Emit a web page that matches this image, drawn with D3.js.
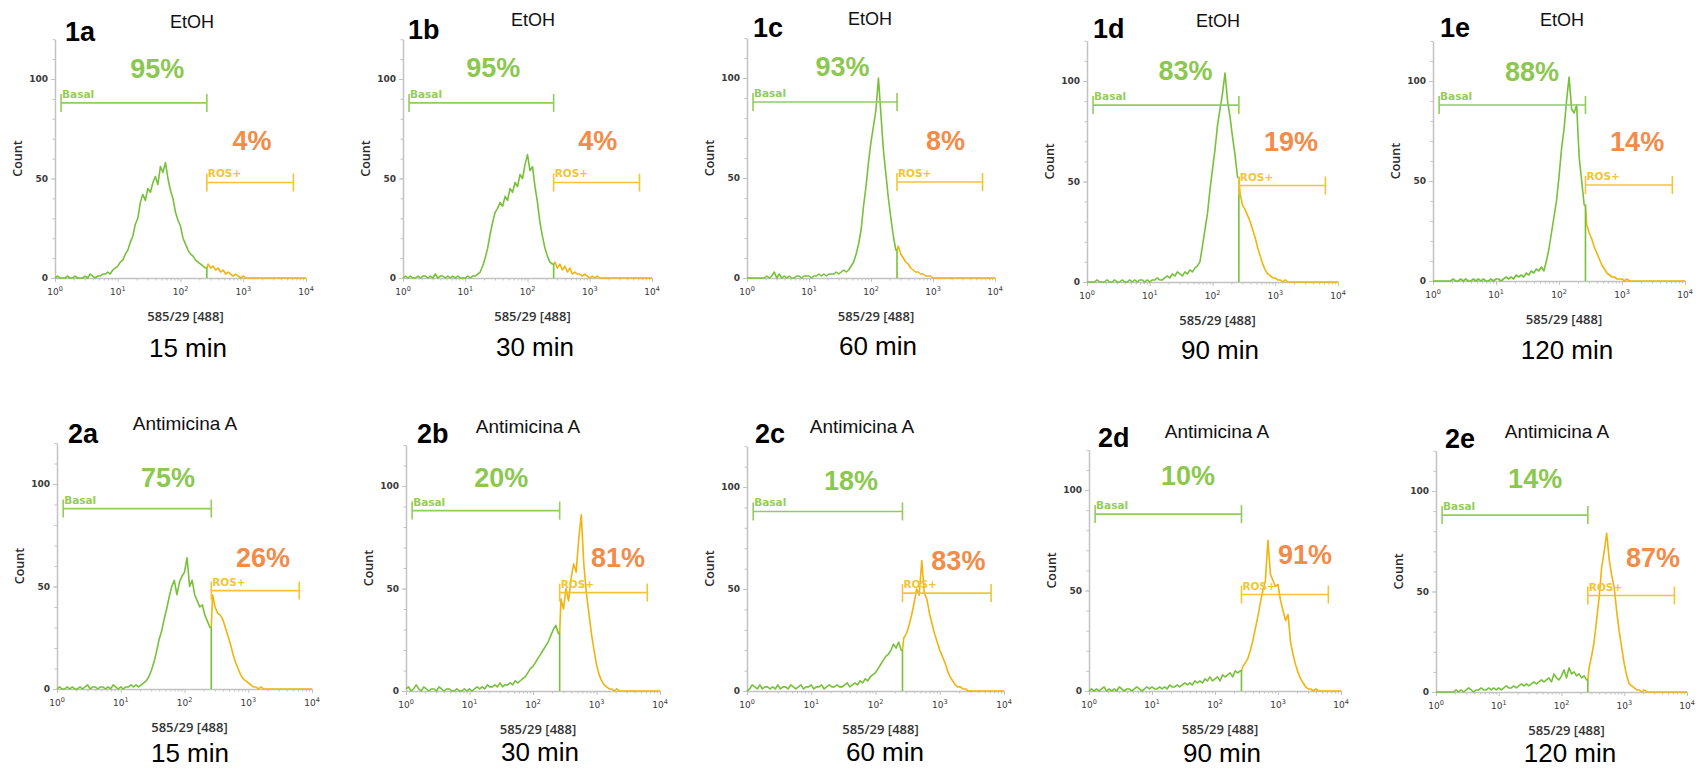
<!DOCTYPE html>
<html>
<head>
<meta charset="utf-8">
<script src="https://cdn.jsdelivr.net/npm/d3@7"></script>
<style>
  html, body { margin: 0; padding: 0; background: #fff; }
  svg { display: block; }
</style>
</head>
<body>
<svg id="chart" width="1698" height="769"></svg>
<script>
// ---- Data ---------------------------------------------------------------
const panelIds   = ["1a", "1b", "1c", "1d", "1e", "2a", "2b", "2c", "2d", "2e"];
const treatments = ["EtOH", "EtOH", "EtOH", "EtOH", "EtOH",
                    "Antimicina A", "Antimicina A", "Antimicina A", "Antimicina A", "Antimicina A"];
const times      = ["15 min", "30 min", "60 min", "90 min", "120 min",
                    "15 min", "30 min", "60 min", "90 min", "120 min"];
const basalPct   = [95, 95, 93, 83, 88, 75, 20, 18, 10, 14];
const rosPct     = [4, 4, 8, 19, 14, 26, 81, 83, 91, 87];

const xTicks = [1, 10, 100, 1000, 10000];
const yTicks = [0, 50, 100];
const xTitle = "585/29 [488]";
const yTitle = "Count";

// Marker gates (fluorescence units)
const basalGate = [1.25, 263];
const rosGate   = [263, 6300];

// Histogram counts, one value per channel; channels are spaced 0.04 decades
// apart from 10^0 to 10^4 (101 channels).
const hist1a = [0,1,0,0,0,1,0,0,1,0, 0,0,1,0,2,1,0,1,1,2,
  2,3,2,4,5, 6,8,9,12,14, 18,21,27,30,38, 42,39,45,43,48,
  51,47,56,53,58, 50,44,40,33,29, 26,20,17,14,12, 11,9,8,7,6,
  5,
  7,5,6,4,5, 3,4,2,3,2, 1,2,1,0,1,
  0,0,0,0,0, 0,0,0,0,0, 0,0,0,0,0, 0,0,0,0,0, 0,0,0,0,0];
const hist1b = [0,1,0,1,0,0,1,0,1,1, 0,1,0,2,0,1,1,0,1,0,
  1,0,1,0,0, 0,1,0,1,1, 2,3,6,10,15, 22,28,33,35,38,
  36,41,39,45,43, 48,46,52,50,57, 62,54,56,46,38, 28,21,15,11,8,
  7,
  8,5,7,4,6, 3,5,2,3,2, 2,1,2,1,0,
  1,0,1,0,0, 0,0,0,0,0, 0,0,0,0,0, 0,0,0,0,0, 0,0,0,0,0];
const hist1c = [0,0,0,0,0,0,0,0,1,0, 1,3,0,2,0,1,0,1,0,0,
  1,1,0,1,1, 1,0,1,1,2, 1,2,1,2,2, 2,3,2,3,4,
  3,4,6,8,12, 17,24,36,46,58, 68,76,84,100,82, 64,52,40,30,21,
  14,
  16,12,10,8,7, 5,4,3,3,2, 2,1,1,1,0,
  0,0,0,0,0, 0,0,0,0,0, 0,0,0,0,0, 0,0,0,0,0, 0,0,0,0,0];
const hist1d = [0,0,0,0,1,0,0,0,1,0, 0,1,0,0,1,0,0,1,0,1,
  0,1,1,0,1, 0,1,1,2,1, 1,2,3,2,4, 3,5,4,3,5,
  4,6,5,7,8, 10,18,26,34,46, 56,66,78,86,94, 104,90,82,72,63,
  52,
  44,38,36,33,30, 26,22,17,13,9, 6,4,3,2,2,
  1,1,0,1,0, 0,0,0,0,0, 0,0,0,0,0, 0,0,0,0,0, 0,0,0,0,0];
const hist1e = [0,0,0,0,0,0,0,0,1,0, 0,1,0,1,0,0,1,0,1,0,
  1,0,0,1,0, 1,1,0,1,2, 1,2,1,3,2, 3,2,4,3,5,
  4,6,5,7,5, 10,16,24,32,40, 52,66,76,90,102, 86,84,88,62,50,
  38,
  28,24,21,17,14, 11,8,6,4,3, 2,2,1,1,1,
  0,1,0,0,0, 0,0,0,0,0, 0,0,0,0,0, 0,0,0,0,0, 0,0,0,0,0];
const hist2a = [0,1,0,0,1,0,1,0,0,1, 0,1,2,0,1,1,0,1,1,0,
  1,0,2,1,0, 1,0,1,1,2, 1,2,1,2,3, 4,6,9,13,18,
  24,28,34,39,45, 50,53,46,52,55, 57,64,50,53,46, 43,40,41,36,33,
  30,
  46,40,37,36,34, 30,26,22,17,13, 10,7,5,4,3,
  2,1,1,0,1, 0,0,0,0,0, 0,0,0,0,0, 0,0,0,0,0, 0,0,0,0,0];
const hist2b = [1,2,0,1,3,1,0,2,1,0, 1,1,0,2,1,0,1,1,0,0,
  1,0,0,1,0, 1,0,1,2,1, 2,1,3,2,2, 3,2,4,2,3,
  3,4,3,5,4, 5,6,7,9,11, 12,14,16,18,20, 22,24,27,30,32,
  28,
  45,40,50,44,55, 62,58,74,86,62, 48,38,28,20,13,
  8,5,3,2,1, 1,0,1,0,0, 0,0,0,0,0, 0,0,0,0,0, 0,0,0,0,0];
const hist2c = [0,1,3,2,1,3,1,2,2,1, 2,1,3,1,2,2,1,3,2,1,
  2,3,1,2,2, 3,1,2,2,3, 1,2,3,2,2, 3,2,2,3,4,
  2,3,4,3,5, 4,6,5,7,8, 9,11,13,15,17, 18,20,23,21,24,
  20,
  26,28,32,37,43, 50,47,64,48,45, 38,33,28,24,20,
  17,14,10,7,5, 3,2,2,1,1, 0,0,0,0,0, 0,0,0,0,0, 0,0,0,0,0];
const hist2d = [0,1,0,1,0,1,2,0,1,0, 1,0,2,1,0,1,1,0,1,2,
  1,0,1,2,1, 2,1,1,2,1, 2,1,3,2,2, 3,2,3,4,3,
  4,3,5,4,5, 4,6,5,7,5, 6,7,5,8,7, 8,9,7,10,9,
  10,
  12,14,16,20,25, 31,37,44,50,55, 75,58,55,52,53,
  45,40,35,38,24, 18,13,9,6,4, 2,1,1,0,1, 0,0,0,0,0, 0,0,0,0,0];
const hist2e = [0,0,0,0,0,0,0,0,1,0, 1,0,1,2,1,0,1,1,2,1,
  1,2,1,2,1, 2,1,2,3,2, 2,3,2,3,4, 3,4,3,4,5,
  4,5,6,5,6, 7,5,9,7,6, 8,11,7,12,9, 10,8,9,7,8,
  6,
  12,18,25,36,47, 62,70,79,66,58, 52,40,30,22,14,
  8,4,3,2,1, 1,0,1,0,0, 0,0,0,0,0, 0,0,0,0,0, 0,0,0,0,0];

const histograms = [hist1a, hist1b, hist1c, hist1d, hist1e,
                    hist2a, hist2b, hist2c, hist2d, hist2e];
const channels = d3.range(101).map(i => Math.pow(10, i * 0.04));

// ---- Layout -------------------------------------------------------------
// Plot frame of each panel plus where its labels sit.
const layout = [
  {x0: 55,   x1: 306,  yb: 278, y100: 79,  idX: 65,   idY: 41,  trX: 192,  trY: 28,  tmX: 188,  tmY: 357, bp: [1.63, 105.5], rp: [3.14, 69]},
  {x0: 403,  x1: 652,  yb: 278, y100: 79,  idX: 408,  idY: 39,  trX: 533,  trY: 26,  tmX: 535,  tmY: 356, bp: [1.45, 106],   rp: [3.13, 69]},
  {x0: 747,  x1: 995,  yb: 278, y100: 78,  idX: 753,  idY: 37,  trX: 870,  trY: 25,  tmX: 878,  tmY: 355, bp: [1.54, 106],   rp: [3.20, 69]},
  {x0: 1087, x1: 1338, yb: 282, y100: 81,  idX: 1093, idY: 38,  trX: 1218, trY: 27,  tmX: 1220, tmY: 359, bp: [1.57, 105],   rp: [3.25, 70]},
  {x0: 1433, x1: 1685, yb: 281, y100: 81,  idX: 1440, idY: 37,  trX: 1562, trY: 26,  tmX: 1567, tmY: 359, bp: [1.57, 105],   rp: [3.24, 70]},
  {x0: 57,   x1: 312,  yb: 689, y100: 484, idX: 68,   idY: 443, trX: 185,  trY: 430, tmX: 190,  tmY: 762, bp: [1.74, 103],   rp: [3.23, 64]},
  {x0: 406,  x1: 660,  yb: 691, y100: 486, idX: 417,  idY: 443, trX: 528,  trY: 433, tmX: 540,  tmY: 761, bp: [1.50, 104],   rp: [3.34, 65]},
  {x0: 747,  x1: 1004, yb: 691, y100: 487, idX: 755,  idY: 443, trX: 862,  trY: 433, tmX: 885,  tmY: 761, bp: [1.62, 103],   rp: [3.29, 64]},
  {x0: 1089, x1: 1341, yb: 691, y100: 490, idX: 1098, idY: 447, trX: 1217, trY: 438, tmX: 1222, tmY: 762, bp: [1.57, 107],   rp: [3.43, 68]},
  {x0: 1436, x1: 1687, yb: 692, y100: 491, idX: 1445, idY: 448, trX: 1557, trY: 438, tmX: 1570, tmY: 762, bp: [1.58, 106],   rp: [3.46, 67]}
];
const basalGateLevel = 88;   // gate bar height, in counts
const rosGateLevel = 48;

const C = {
  axis: "#c2c2c2",
  tickText: "#3a3a3a",
  green: "#76c139",
  orange: "#f1b40e",
  basalGate: "#92cd5a",
  rosGate: "#f3c536",
  pctGreen: "#8cc84f",
  pctOrange: "#f38b49"
};

const svg = d3.select("#chart");

// decade sub-ticks 2..9 for the log axis
const minorX = [];
for (let d = 1; d < 1e4; d *= 10) for (let m = 2; m < 10; m++) minorX.push(d * m);
const minorY = d3.range(0, 121, 10);

histograms.forEach((h, k) => {
  if (h.length !== channels.length) throw new Error("histogram " + panelIds[k] + " has " + h.length + " values");
});

panelIds.forEach((id, k) => {
  const L = layout[k];
  const hist = histograms[k];
  const unit = (L.yb - L.y100) / 100;
  const x = d3.scaleLog().domain([1, 1e4]).range([L.x0, L.x1]);
  const y = d3.scaleLinear().domain([0, 120]).range([L.yb, L.yb - 120 * unit]);
  const g = svg.append("g").attr("class", "panel panel-" + id);

  // x axis
  const xa = g.append("g").attr("transform", `translate(0,${L.yb})`)
    .call(d3.axisBottom(x).tickValues(xTicks).tickSize(4).tickSizeOuter(0).tickFormat(""));
  const xm = g.append("g").attr("transform", `translate(0,${L.yb})`)
    .call(d3.axisBottom(x).tickValues(minorX).tickSize(2.5).tickSizeOuter(0).tickFormat(""));
  xm.select(".domain").remove();

  // y axis
  const ya = g.append("g").attr("transform", `translate(${L.x0},0)`)
    .call(d3.axisLeft(y).tickValues(yTicks).tickSize(4).tickSizeOuter(0).tickPadding(3).tickFormat(d3.format("d")));
  const ym = g.append("g").attr("transform", `translate(${L.x0},0)`)
    .call(d3.axisLeft(y).tickValues(minorY).tickSize(2.5).tickSizeOuter(0).tickFormat(""));
  ym.select(".domain").remove();

  [xa, xm, ya, ym].forEach(a => {
    a.select(".domain").attr("stroke", C.axis).attr("stroke-width", 1.5);
    a.selectAll(".tick line").attr("stroke", C.axis).attr("stroke-width", 1);
  });
  ya.selectAll(".tick text")
    .attr("font-family", "'DejaVu Sans', sans-serif").attr("font-weight", "bold")
    .attr("font-size", 9).attr("fill", C.tickText);

  // x tick labels as powers of ten
  const xl = g.append("g").selectAll("text").data(xTicks).join("text")
    .attr("x", d => x(d)).attr("y", L.yb + 17)
    .attr("text-anchor", "middle")
    .attr("font-family", "'DejaVu Sans', sans-serif")
    .attr("font-size", 9).attr("fill", C.tickText);
  xl.append("tspan").text("10");
  xl.append("tspan").attr("dy", -4).attr("font-size", 6.5)
    .text(d => Math.round(Math.log10(d)));

  // axis titles
  g.append("text")
    .attr("x", (L.x0 + L.x1) / 2 + 5).attr("y", L.yb + 43)
    .attr("text-anchor", "middle")
    .attr("font-family", "'Open Sans', sans-serif").attr("font-weight", 600)
    .attr("font-size", 13).attr("fill", "#333")
    .text(xTitle);
  g.append("text")
    .attr("transform", `translate(${L.x0 - 38},${y(60)}) rotate(-90)`)
    .attr("text-anchor", "middle").attr("dominant-baseline", "central")
    .attr("font-family", "'Open Sans', sans-serif").attr("font-weight", 600)
    .attr("font-size", 12.5).attr("fill", "#2a2a2a")
    .text(yTitle);

  // histogram, split at the ROS+ gate
  const gate = basalGate[1];
  const split = channels.findIndex(c => c > gate);
  const line = d3.line();
  const greenPts = channels.slice(0, split).map((c, i) => [x(c), y(hist[i])]);
  greenPts.push([x(gate), y(hist[split - 1])], [x(gate), y(0)]);
  const orangePts = [[x(gate), y(hist[split - 1])]]
    .concat(channels.slice(split).map((c, i) => [x(c), y(hist[split + i])]));

  g.append("path").attr("d", line(orangePts))
    .attr("fill", "none").attr("stroke", C.orange).attr("stroke-width", 1.6)
    .attr("stroke-linejoin", "round");
  g.append("path").attr("d", line(greenPts))
    .attr("fill", "none").attr("stroke", C.green).attr("stroke-width", 1.6)
    .attr("stroke-linejoin", "round");

  // gate markers
  const drawGate = (range, level, color, label) => {
    const gy = y(level);
    const gg = g.append("g");
    gg.append("line").attr("x1", x(range[0])).attr("x2", x(range[1]))
      .attr("y1", gy).attr("y2", gy);
    range.forEach(v => gg.append("line")
      .attr("x1", x(v)).attr("x2", x(v)).attr("y1", gy - 9).attr("y2", gy + 9));
    gg.selectAll("line").attr("stroke", color).attr("stroke-width", 1.6);
    gg.append("text").attr("x", x(range[0]) + 1).attr("y", gy - 5)
      .attr("font-family", "'DejaVu Sans', sans-serif").attr("font-weight", "bold")
      .attr("font-size", 10.5).attr("fill", color)
      .text(label);
  };
  drawGate(basalGate, basalGateLevel, C.basalGate, "Basal");
  drawGate(rosGate, rosGateLevel, C.rosGate, "ROS+");

  // population percentages
  g.append("text")
    .attr("x", x(Math.pow(10, L.bp[0]))).attr("y", y(L.bp[1]) + 9.5)
    .attr("text-anchor", "middle")
    .attr("font-family", "'Liberation Sans', Arial, sans-serif").attr("font-weight", "bold")
    .attr("font-size", 27).attr("fill", C.pctGreen)
    .text(basalPct[k] + "%");
  g.append("text")
    .attr("x", x(Math.pow(10, L.rp[0]))).attr("y", y(L.rp[1]) + 9.5)
    .attr("text-anchor", "middle")
    .attr("font-family", "'Liberation Sans', Arial, sans-serif").attr("font-weight", "bold")
    .attr("font-size", 27).attr("fill", C.pctOrange)
    .text(rosPct[k] + "%");

  // panel tag, treatment and time point
  g.append("text").attr("x", L.idX).attr("y", L.idY)
    .attr("font-family", "'Liberation Sans', Arial, sans-serif").attr("font-weight", "bold")
    .attr("font-size", 27).attr("fill", "#000")
    .text(id);
  g.append("text").attr("x", L.trX).attr("y", L.trY)
    .attr("text-anchor", "middle")
    .attr("font-family", "'Liberation Sans', Arial, sans-serif")
    .attr("font-size", k < 5 ? 18 : 19).attr("fill", "#111")
    .text(treatments[k]);
  g.append("text").attr("x", L.tmX).attr("y", L.tmY)
    .attr("text-anchor", "middle")
    .attr("font-family", "'Liberation Sans', Arial, sans-serif")
    .attr("font-size", 26).attr("fill", "#000")
    .text(times[k]);
});
</script>
</body>
</html>
